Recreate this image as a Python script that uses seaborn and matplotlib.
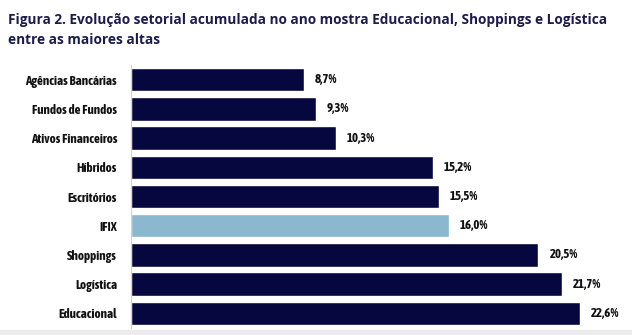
import matplotlib
matplotlib.use("Agg")
import matplotlib.pyplot as plt
import seaborn as sns
import pandas as pd
import numpy as np

categories = ["Agências Bancárias", "Fundos de Fundos", "Ativos Financeiros", "Híbridos",
              "Escritórios", "IFIX", "Shoppings", "Logística", "Educacional"]
values = [8.7, 9.3, 10.3, 15.2, 15.5, 16.0, 20.5, 21.7, 22.6]
value_labels = ["8,7%", "9,3%", "10,3%", "15,2%", "15,5%", "16,0%", "20,5%", "21,7%", "22,6%"]
title = ("Figura 2. Evolução setorial acumulada no ano mostra Educacional, Shoppings e Logística\n"
         "entre as maiores altas")

NAVY = "#07073f"
LIGHT = "#8bb8cf"
colors = [LIGHT if c == "IFIX" else NAVY for c in categories]

sns.set_theme(style="white")
LABEL_FONT = ["Asap Condensed", "DejaVu Sans"]
TITLE_FONT = ["Open Sans", "DejaVu Sans"]
plt.rcParams["font.family"] = LABEL_FONT

df = pd.DataFrame({"cat": categories, "val": values})

fig = plt.figure(figsize=(6.32, 3.35), dpi=100)
fig.patch.set_facecolor("white")
fig.patches.append(plt.Rectangle((0, 0), 1, 5 / 335, transform=fig.transFigure,
                                 color="#ececef", zorder=0))
ax = fig.add_axes([131 / 632, 7 / 335, 477 / 632, 263 / 335])
sns.barplot(data=df, y="cat", x="val", hue="cat", palette=colors, legend=False,
            orient="h", width=0.8, ax=ax, saturation=1)
ax.set_xlim(0, 24)
ax.set_ylim(8.5, -0.5)
ax.set_xlabel("")
ax.set_ylabel("")
ax.set_xticks([])
for s in ["top", "right", "bottom"]:
    ax.spines[s].set_visible(False)
ax.spines["left"].set_color("#d0d0d8")
ax.spines["left"].set_linewidth(0.8)
ax.tick_params(axis="y", which="major", length=0, pad=10)
ax.set_yticks(np.arange(-0.5, 9, 1), minor=True)
ax.tick_params(axis="y", which="minor", length=3, color="#d0d0d8", width=0.8)
for lab in ax.get_yticklabels():
    lab.set_fontweight("bold")
    lab.set_fontsize(9.4)
    lab.set_color("#111111")
    lab.set_family(LABEL_FONT)

for i, (v, t) in enumerate(zip(values, value_labels)):
    ax.text(v + 0.55, i, t, va="center", ha="left", fontsize=9.3, fontweight="bold",
            color="#111111", family=LABEL_FONT)

fig.text(8 / 632, 1 - 13 / 335, title, ha="left", va="top", fontsize=9.8, fontweight="bold",
         color="#1b1b4d", family=TITLE_FONT, linespacing=1.55)

fig.savefig("out.png", dpi=100)
